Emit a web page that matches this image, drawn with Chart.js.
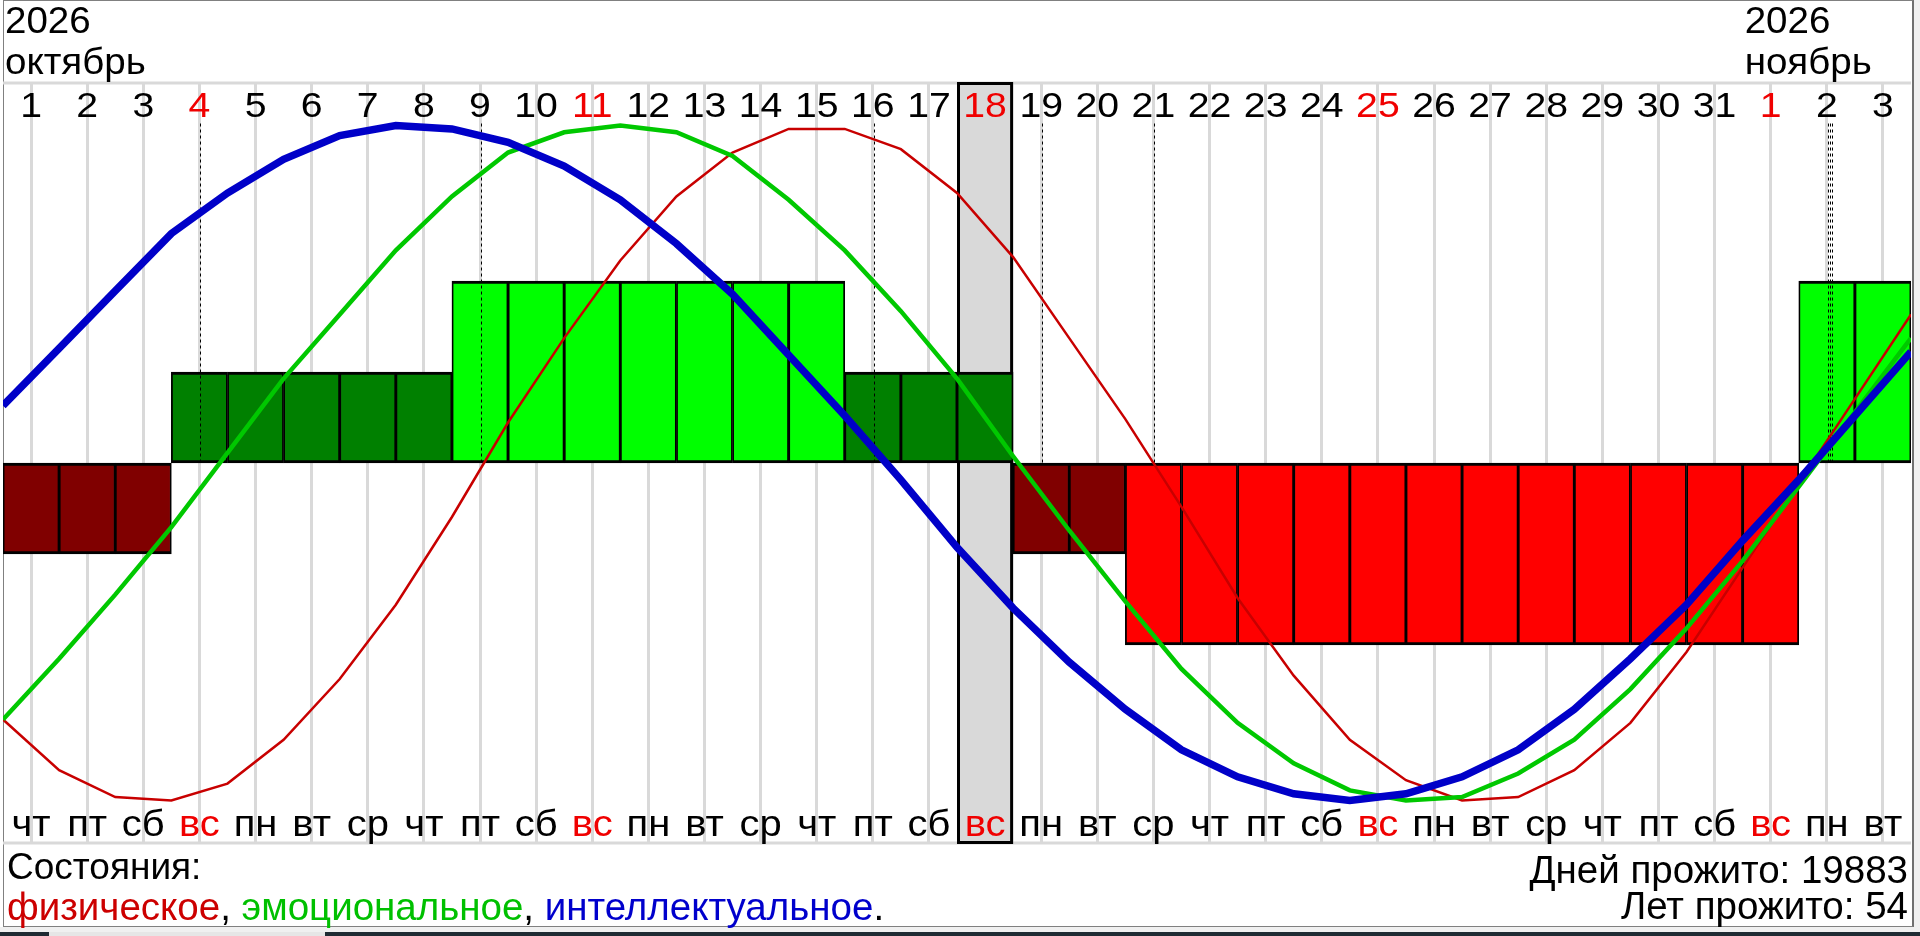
<!DOCTYPE html>
<html lang="ru">
<head>
<meta charset="utf-8">
<title>Биоритмы</title>
<script src="https://cdn.jsdelivr.net/npm/chart.js@4.4.1/dist/chart.umd.min.js"></script>
<style>
  html, body { margin: 0; padding: 0; background: #fff; }
  body { width: 1920px; height: 936px; position: relative; overflow: hidden;
         font-family: "Liberation Sans", Arial, sans-serif; }
  #frame { position: absolute; left: 3px; top: 0; width: 1911px; height: 927px; box-sizing: border-box;
           border: 1px solid #808080; border-right: 2px solid #707070; }
  #side { position: absolute; left: 1914px; top: 0; width: 6px; height: 932px; background: #f0f0f0; }
  #under { position: absolute; left: 0; top: 927px; width: 1920px; height: 5px; background: #f0f0f0; }
  #taskbar { position: absolute; left: 0; top: 932px; width: 1920px; height: 4px; background: #1f2b33; }
  #taskbar span { position: absolute; left: 49px; top: 0; width: 276px; height: 4px; background: #e6e6e6; }
  canvas { position: absolute; left: 0; top: 0; }
  .txt { position: absolute; font-size: 38.5px; white-space: nowrap; color: #000; line-height: normal; }
</style>
</head>
<body>
<div id="frame"></div>
<div id="side"></div>
<div id="under"></div>
<div id="taskbar"><span></span></div>
<canvas id="bio" width="1920" height="936"></canvas>
<div class="txt" style="left:7px; top:846px; font-size:37px">Состояния:</div>
<div class="txt" style="left:7px; top:885px"><span style="color:#cc0000">физическое</span>, <span style="color:#00c000">эмоциональное</span>, <span style="color:#0000cc">интеллектуальное</span>.</div>
<div class="txt" id="daysLived" style="right:12px; top:848px"></div>
<div class="txt" id="yearsLived" style="right:12px; top:884px"></div>

<script>
// дни: 1 октября - 3 ноября 2026
const dayNumbers = [1, 2, 3, 4, 5, 6, 7, 8, 9, 10, 11, 12, 13, 14, 15, 16, 17, 18, 19, 20,
                    21, 22, 23, 24, 25, 26, 27, 28, 29, 30, 31, 1, 2, 3];
const weekDays = ['чт', 'пт', 'сб', 'вс', 'пн', 'вт', 'ср', 'чт', 'пт', 'сб', 'вс', 'пн', 'вт', 'ср',
                  'чт', 'пт', 'сб', 'вс', 'пн', 'вт', 'ср', 'чт', 'пт', 'сб', 'вс', 'пн', 'вт', 'ср',
                  'чт', 'пт', 'сб', 'вс', 'пн', 'вт'];
const monthStarts = [0, 31];
const monthYears = ['2026', '2026'];
const monthNames = ['октябрь', 'ноябрь'];
const todayIndex = 17;

// состояние дня (столбики): -2 .. 2
const stateLevels = [-1, -1, -1, 1, 1, 1, 1, 1, 2, 2, 2, 2, 2, 2, 2, 1, 1, 1, -1, -1,
                     -2, -2, -2, -2, -2, -2, -2, -2, -2, -2, -2, -2, 2, 2];

// ритмы на границах дней (35 точек)
const physical = [-0.76, -0.91, -0.99, -1.0, -0.95, -0.82, -0.64, -0.42, -0.16, 0.12,
                  0.37, 0.60, 0.79, 0.92, 0.99, 0.99, 0.93, 0.80, 0.61, 0.37,
                  0.13, -0.13, -0.40, -0.63, -0.82, -0.94, -1.0, -0.99, -0.91, -0.77,
                  -0.56, -0.31, -0.06, 0.19, 0.44];
const emotional = [-0.76, -0.58, -0.39, -0.19, 0.03, 0.25, 0.44, 0.63, 0.79, 0.92,
                   0.98, 1.0, 0.98, 0.91, 0.78, 0.63, 0.45, 0.25, 0.02, -0.20,
                   -0.41, -0.61, -0.77, -0.89, -0.97, -1.0, -0.99, -0.92, -0.82, -0.67,
                   -0.49, -0.29, -0.07, 0.15, 0.37];
const intellectual = [0.17, 0.34, 0.51, 0.68, 0.80, 0.90, 0.97, 1.0, 0.99, 0.95,
                      0.88, 0.78, 0.65, 0.50, 0.32, 0.14, -0.05, -0.25, -0.43, -0.59,
                      -0.73, -0.85, -0.93, -0.98, -1.0, -0.98, -0.93, -0.85, -0.73, -0.58,
                      -0.42, -0.23, -0.05, 0.14, 0.33];

// критические дни (индексы дней, повтор = несколько ритмов)
const criticalDays = [3, 8, 15, 18, 20, 32, 32, 32];

const daysLived = 19883;
const yearsLived = 54;

const levelColors = { '-2': '#ff0000', '-1': '#800000', '1': '#008000', '2': '#00ff00' };
const FONT = '"Liberation Sans", Arial, sans-serif';

document.getElementById('daysLived').textContent = 'Дней прожито: ' + daysLived;
document.getElementById('yearsLived').textContent = 'Лет прожито: ' + yearsLived;

// текст чуть шире по горизонтали, как в оригинале
function wideText(ctx, text, x, y, sx) {
  ctx.save();
  ctx.translate(x, y);
  ctx.scale(sx, 1);
  ctx.fillText(text, 0, 0);
  ctx.restore();
}

const calendarDecor = {
  id: 'calendarDecor',
  beforeDatasetsDraw(chart) {
    const { ctx, chartArea: area, scales: { x } } = chart;
    ctx.save();
    ctx.strokeStyle = '#d9d9d9';
    ctx.lineWidth = 3;
    ctx.beginPath();
    ctx.moveTo(area.left, area.top);
    ctx.lineTo(area.right, area.top);
    ctx.moveTo(area.left, area.bottom);
    ctx.lineTo(area.right, area.bottom);
    ctx.stroke();

    // сегодня
    const x0 = x.getPixelForValue(todayIndex);
    const x1 = x.getPixelForValue(todayIndex + 1);
    ctx.fillStyle = '#d9d9d9';
    ctx.fillRect(x0, area.top - 1, x1 - x0, area.bottom - area.top + 1);
    ctx.strokeStyle = '#000';
    ctx.lineWidth = 3;
    ctx.strokeRect(x0 + 1.5, area.top + 0.5, x1 - x0 - 3, area.bottom - area.top - 1);
    ctx.restore();
  },
  afterDatasetDraw(chart, args) {
    if (args.meta.type !== 'bar') return;
    const { ctx, scales: { x, y } } = chart;
    const top = y.getPixelForValue(1) - 2;
    const zero = y.getPixelForValue(0);
    const seen = {};
    ctx.save();
    ctx.strokeStyle = '#000';
    ctx.lineWidth = 1;
    ctx.setLineDash([3, 3]);
    criticalDays.forEach(d => {
      const k = seen[d] || 0;
      seen[d] = k + 1;
      const px = Math.round(x.getPixelForValue(d + 0.5) + 1 + 2 * k) + 0.5;
      ctx.beginPath();
      ctx.moveTo(px, top);
      ctx.lineTo(px, zero);
      ctx.stroke();
    });
    ctx.restore();
  },
  afterDraw(chart) {
    const { ctx, chartArea: area, scales: { x } } = chart;
    ctx.save();
    ctx.textAlign = 'center';
    ctx.textBaseline = 'alphabetic';
    dayNumbers.forEach((d, i) => {
      const cx = x.getPixelForValue(i + 0.5);
      const red = weekDays[i] === 'вс';
      ctx.fillStyle = red ? '#f00000' : '#000';
      ctx.font = '35px ' + FONT;
      wideText(ctx, String(d), cx, area.top + 34, 1.12);
      ctx.font = '37px ' + FONT;
      wideText(ctx, weekDays[i], cx, area.bottom - 7, 1.08);
    });
    ctx.textAlign = 'left';
    ctx.fillStyle = '#000';
    ctx.font = '36px ' + FONT;
    monthStarts.forEach((m, k) => {
      const lx = x.getPixelForValue(m) + 2;
      wideText(ctx, monthYears[k], lx, 33, 1.07);
      wideText(ctx, monthNames[k], lx, 74, 1.07);
    });
    ctx.restore();
  }
};

new Chart(document.getElementById('bio'), {
  type: 'bar',
  data: {
    datasets: [
      {
        type: 'bar',
        label: 'состояние',
        data: stateLevels.map((v, i) => ({ x: i + 0.5, y: v })),
        backgroundColor: stateLevels.map(v => levelColors[v]),
        borderColor: '#000',
        borderWidth: { top: 3, bottom: 3, left: 1.8, right: 1.8 },
        borderSkipped: false,
        categoryPercentage: 1,
        barPercentage: 1,
        yAxisID: 'yb',
        order: 4
      },
      {
        type: 'line',
        label: 'физическое',
        data: physical.map((v, i) => ({ x: i, y: v })),
        borderColor: '#c80000',
        borderWidth: 2.5,
        pointRadius: 0,
        tension: 0,
        yAxisID: 'y',
        order: 3
      },
      {
        type: 'line',
        label: 'эмоциональное',
        data: emotional.map((v, i) => ({ x: i, y: v })),
        borderColor: '#00c800',
        borderWidth: 4.5,
        pointRadius: 0,
        tension: 0,
        yAxisID: 'y',
        order: 2
      },
      {
        type: 'line',
        label: 'интеллектуальное',
        data: intellectual.map((v, i) => ({ x: i, y: v })),
        borderColor: '#0000c8',
        borderWidth: 7.5,
        pointRadius: 0,
        tension: 0,
        yAxisID: 'y',
        order: 1
      }
    ]
  },
  options: {
    responsive: false,
    animation: false,
    layout: { padding: { left: 3, top: 83, right: 9, bottom: 93 } },
    plugins: { legend: { display: false }, tooltip: { enabled: false } },
    scales: {
      x: {
        type: 'linear',
        min: 0,
        max: dayNumbers.length,
        offset: false,
        ticks: { display: false, stepSize: 1 },
        grid: {
          color: c => (c.index === 0 ? 'rgba(0,0,0,0)' : '#d9d9d9'),
          lineWidth: 3,
          drawTicks: false
        },
        border: { display: false }
      },
      y: { display: false, min: -1.126, max: 1.126 },
      yb: { display: false, min: -4.176, max: 4.176 }
    }
  },
  plugins: [calendarDecor]
});
</script>
</body>
</html>
